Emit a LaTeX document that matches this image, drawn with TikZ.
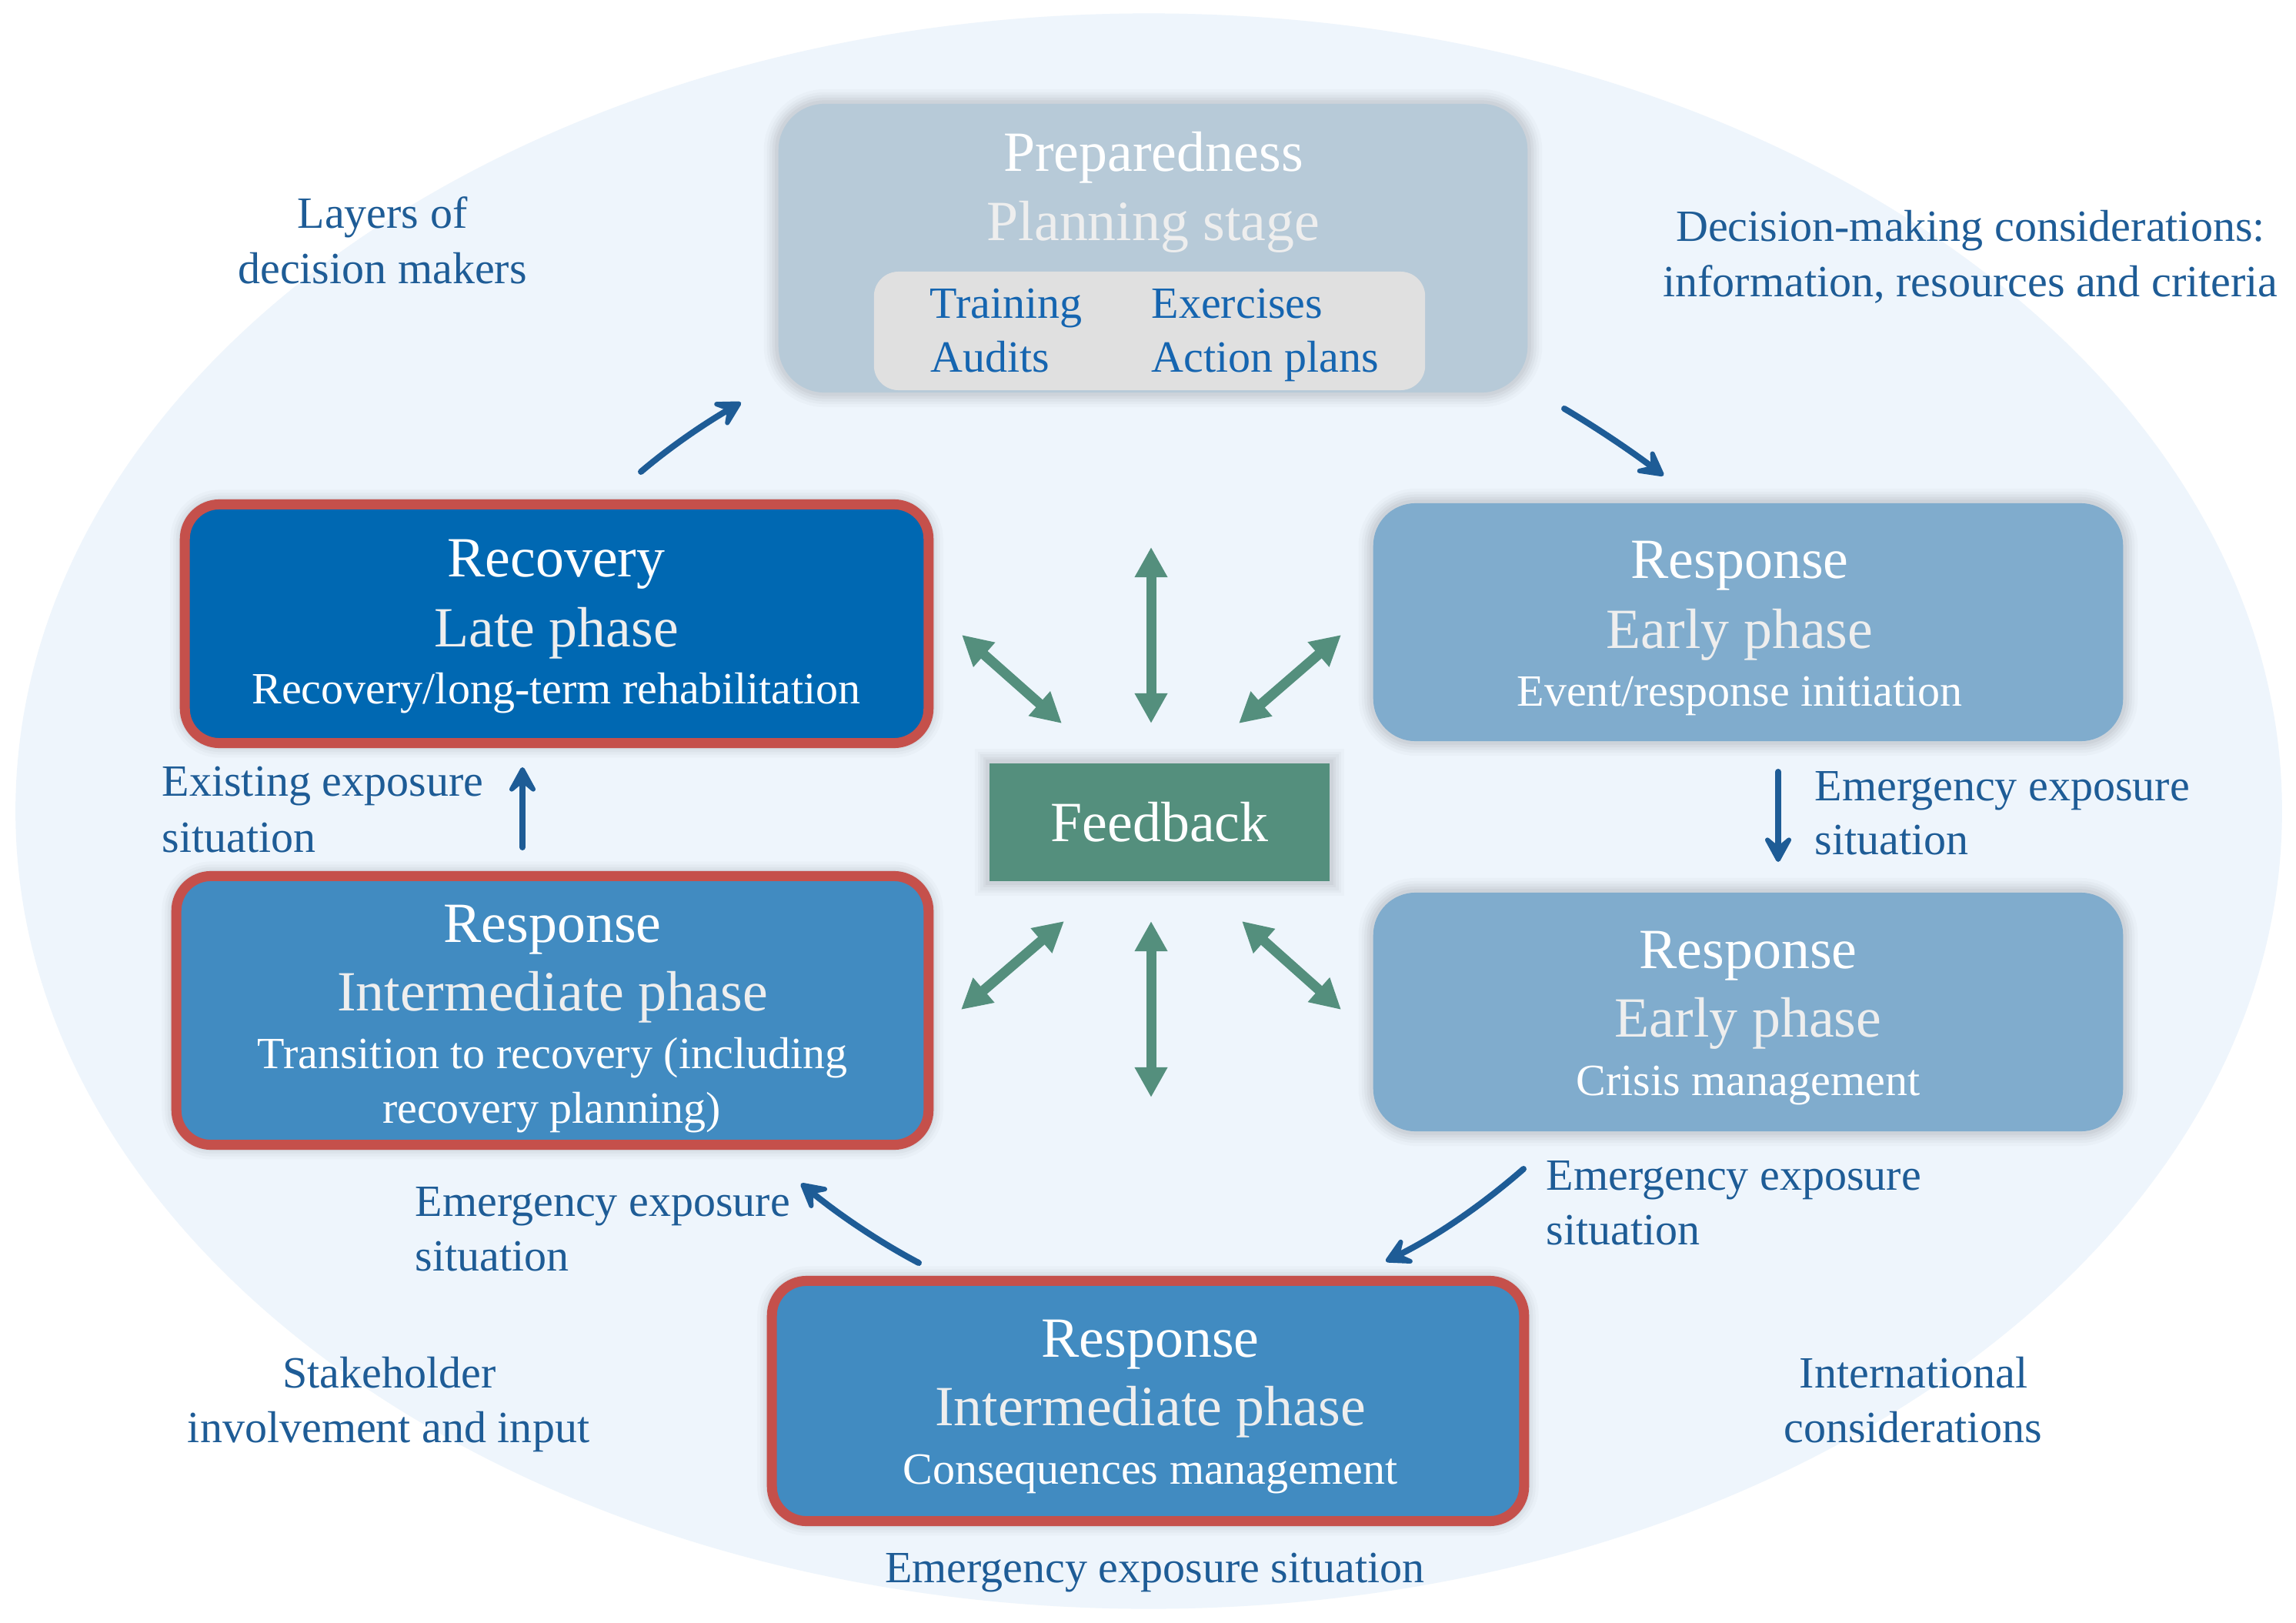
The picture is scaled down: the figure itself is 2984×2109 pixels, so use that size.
\documentclass[tikz,border=0pt]{standalone}
\usepackage{fontspec}
\setmainfont{Liberation Serif}
\usetikzlibrary{arrows.meta}
\definecolor{ellbg}{HTML}{EEF5FC}
\definecolor{prepc}{HTML}{B7CAD8}
\definecolor{innerg}{HTML}{E0E0E0}
\definecolor{innert}{HTML}{1565B0}
\definecolor{recc}{HTML}{0068B2}
\definecolor{redb}{HTML}{C5504B}
\definecolor{earlyc}{HTML}{80ACCD}
\definecolor{interc}{HTML}{418BC1}
\definecolor{fbc}{HTML}{548F7D}
\definecolor{lblue}{HTML}{1E5C96}
\definecolor{subc}{HTML}{EEEEEE}
\newcommand\MyBig{\fontsize{21pt}{25pt}\selectfont}
\newcommand\MySmall{\fontsize{16.5pt}{20pt}\selectfont}
\begin{document}
\begin{tikzpicture}[x=0.01cm,y=-0.01cm,
  halo/.style={preaction={draw=black,draw opacity=0.018,line width=0.38cm},
               preaction={draw=black,draw opacity=0.022,line width=0.30cm},
               preaction={draw=black,draw opacity=0.026,line width=0.23cm},
               preaction={draw=black,draw opacity=0.03,line width=0.16cm},
               preaction={draw=black,draw opacity=0.035,line width=0.09cm}},
  boxbase/.style={rectangle, inner sep=0pt, halo},
  prepbox/.style={boxbase, fill=prepc, rounded corners=0.6cm},
  innerbox/.style={rectangle, inner sep=0pt, fill=innerg, rounded corners=0.32cm},
  earlybox/.style={boxbase, fill=earlyc, rounded corners=0.55cm},
  redbox/.style={boxbase, draw=redb, line width=0.13cm, rounded corners=0.45cm},
  fbbox/.style={boxbase, fill=fbc, text=white, font=\MyBig},
  tbig/.style={inner sep=0pt, text=white, font=\MyBig, anchor=base},
  tsub/.style={inner sep=0pt, text=subc, font=\MyBig, anchor=base},
  tsmall/.style={inner sep=0pt, text=white, font=\MySmall, anchor=base},
  tinner/.style={inner sep=0pt, text=innert, font=\MySmall, anchor=base west},
  lbl/.style={inner sep=0pt, text=lblue, font=\MySmall, anchor=base},
  lblw/.style={inner sep=0pt, text=lblue, font=\MySmall, anchor=base west},
  flow/.style={draw=lblue, line width=0.08cm, line cap=round,
               -{Stealth[length=0.44cm, width=0.48cm, inset=0.2cm, round]}},
  fback/.style={draw=fbc, line width=0.13cm,
               {Triangle[length=0.39cm, width=0.40cm]}-{Triangle[length=0.39cm, width=0.40cm]}}
]
\useasboundingbox (0,0) rectangle (2984,2109);
\fill[white] (0,0) rectangle (2984,2109);
\fill[ellbg] (1493,1054) ellipse [x radius=14.72cm, y radius=10.36cm];

% ---------- boxes ----------
\node[prepbox, minimum width=9.73cm, minimum height=3.75cm] (prep) at (1498.5,322.5) {};
\node[innerbox, minimum width=7.16cm, minimum height=1.54cm] (inner) at (1494,430) {};
\node[redbox, fill=recc, minimum width=9.66cm, minimum height=3.10cm] (rec) at (723.5,810.5) {};
\node[earlybox, minimum width=9.74cm, minimum height=3.09cm] (ea1) at (2272,808.5) {};
\node[earlybox, minimum width=9.74cm, minimum height=3.10cm] (ea2) at (2272,1315) {};
\node[redbox, fill=interc, minimum width=9.77cm, minimum height=3.49cm] (intl) at (718,1313) {};
\node[redbox, fill=interc, minimum width=9.77cm, minimum height=3.12cm] (intb) at (1492,1820.5) {};
\node[fbbox, minimum width=4.42cm, minimum height=1.53cm] (fb) at (1507,1068.5) {Feedback};

% ---------- box texts ----------
\node[tbig] (p1) at (1499,222) {Preparedness};
\node[tsub] (p2) at (1499,312) {Planning stage};
\node[tinner] (p3) at (1208,413) {Training};
\node[tinner] (p4) at (1496,413) {Exercises};
\node[tinner] (p5) at (1209,483) {Audits};
\node[tinner] (p6) at (1496,483) {Action plans};

\node[tbig] (r1) at (723,749) {Recovery};
\node[tsub] (r2) at (723,840) {Late phase};
\node[tsmall] (r3) at (723,914) {Recovery/long-term rehabilitation};

\node[tbig] (e1) at (2261,751) {Response};
\node[tsub] (e2) at (2261,842) {Early phase};
\node[tsmall] (e3) at (2261,917) {Event/response initiation};

\node[tbig] (f1) at (2272,1258) {Response};
\node[tsub] (f2) at (2272,1347) {Early phase};
\node[tsmall] (f3) at (2272,1423) {Crisis management};

\node[tbig] (i1) at (718,1224) {Response};
\node[tsub] (i2) at (718,1313) {Intermediate phase};
\node[tsmall] (i3) at (718,1388) {Transition to recovery (including};
\node[tsmall] (i4) at (717,1459) {recovery planning)};

\node[tbig] (b1) at (1495,1763) {Response};
\node[tsub] (b2) at (1495,1852) {Intermediate phase};
\node[tsmall] (b3) at (1495,1928) {Consequences management};

% ---------- labels ----------
\node[lbl] (l1) at (497,297) {Layers of};
\node[lbl] (l2) at (497,368) {decision makers};
\node[lbl] (l3) at (2561,314) {Decision-making considerations:};
\node[lbl] (l4) at (2561,385) {information, resources and criteria};
\node[lblw] (l5) at (210,1034) {Existing exposure};
\node[lblw] (l6) at (210,1107) {situation};
\node[lblw] (l7) at (2358,1040) {Emergency exposure};
\node[lblw] (l8) at (2358,1110) {situation};
\node[lblw] (l9) at (539,1580) {Emergency exposure};
\node[lblw] (l10) at (539,1651) {situation};
\node[lblw] (l11) at (2009,1546) {Emergency exposure};
\node[lblw] (l12) at (2009,1617) {situation};
\node[lbl] (l13) at (506,1803) {Stakeholder};
\node[lbl] (l14) at (505,1874) {involvement and input};
\node[lbl] (l15) at (2487,1803) {International};
\node[lbl] (l16) at (2486,1874) {considerations};
\node[lbl] (l17) at (1501,2056) {Emergency exposure situation};

% ---------- flow arrows ----------
\coordinate (a1s) at (833,613);   \coordinate (a1e) at (963,523);
\coordinate (a2s) at (2033,531);  \coordinate (a2e) at (2162,618);
\coordinate (a3s) at (2311,1003); \coordinate (a3e) at (2311,1120);
\coordinate (a4s) at (1980,1519); \coordinate (a4e) at (1801,1639);
\coordinate (a5s) at (1194,1641); \coordinate (a5e) at (1041,1538);
\coordinate (a6s) at (679,1101);  \coordinate (a6e) at (679,997);
\draw[flow] (a1s) .. controls (873,579) and (918,549) .. (a1e);
\draw[flow] (a2s) .. controls (2077,557) and (2121,587) .. (a2e);
\draw[flow] (a3s) -- (a3e);
\draw[flow] (a4s) .. controls (1925,1567) and (1866,1607) .. (a4e);
\draw[flow] (a5s) .. controls (1141,1613) and (1090,1578) .. (a5e);
\draw[flow] (a6s) -- (a6e);

% ---------- feedback arrows ----------
\coordinate (g1a) at (1496,711);  \coordinate (g1b) at (1496,940);
\coordinate (g2a) at (1250,825);  \coordinate (g2b) at (1380,940);
\coordinate (g3a) at (1743,825);  \coordinate (g3b) at (1610,940);
\coordinate (g4a) at (1383,1197); \coordinate (g4b) at (1249,1312);
\coordinate (g5a) at (1496,1197); \coordinate (g5b) at (1496,1426);
\coordinate (g6a) at (1614,1197); \coordinate (g6b) at (1743,1312);
\draw[fback] (g1a) -- (g1b);
\draw[fback] (g2a) -- (g2b);
\draw[fback] (g3a) -- (g3b);
\draw[fback] (g4a) -- (g4b);
\draw[fback] (g5a) -- (g5b);
\draw[fback] (g6a) -- (g6b);
\end{tikzpicture}
\end{document}
